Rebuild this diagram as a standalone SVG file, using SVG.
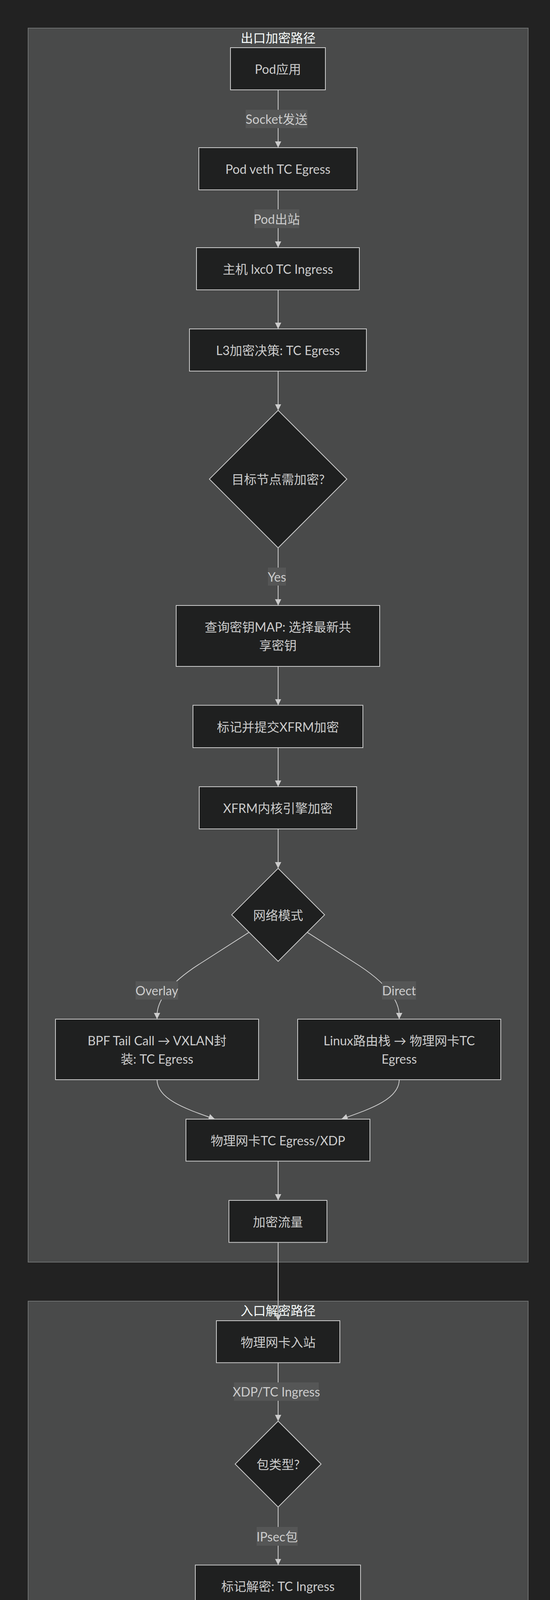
<svg xmlns="http://www.w3.org/2000/svg" width="1408" height="5695" viewBox="0 0 1408 5695">
<defs>
<marker id="arrow" viewBox="0 0 10 10" refX="10" refY="5" markerUnits="userSpaceOnUse" markerWidth="16" markerHeight="16" orient="auto">
<path d="M0,0 L10,5 L0,10 z" fill="#cccccc"/>
</marker>
</defs>
<style>
text{font-family:"Trebuchet MS",Lato,"Noto Sans CJK SC",sans-serif;font-size:32px;text-anchor:middle;dominant-baseline:central}
.cluster rect{fill:#494a4a;stroke:#6e7070;stroke-width:2}
.ctitle{fill:#F9FFFE}
.node rect,.node polygon{fill:#1f2020;stroke:#cccccc;stroke-width:2}
.node text{fill:#cccccc}
.edges path{fill:none;stroke:#cccccc;stroke-width:2;marker-end:url(#arrow)}
.elabel rect{fill:#555656}
.elabel text{fill:#cccccc}
</style>
<rect x="0" y="0" width="1408" height="5695" fill="#222222"/>
<g id="cluster-egress" class="cluster">
<rect x="72" y="72" width="1280" height="3159"/>
<text class="ctitle" x="712" y="96">出口加密路径</text>
</g>
<g id="cluster-ingress" class="cluster">
<rect x="72" y="3331" width="1280" height="2308"/>
<text class="ctitle" x="712" y="3354">入口解密路径</text>
</g>
<g id="edges" class="edges">
<path d="M712,230 L712,378"/>
<path d="M712,486 L712,634"/>
<path d="M712,742 L712,842"/>
<path d="M712,950 L712,1050.5"/>
<path d="M712,1402.5 L712,1550"/>
<path d="M712,1706 L712,1805.5"/>
<path d="M712,1914 L712,2014"/>
<path d="M712,2122 L712,2223"/>
<path d="M637.6,2386.6 L520,2462 Q402,2535 402,2600 L402,2609"/>
<path d="M786.4,2386.6 L904,2462 Q1022,2535 1022,2600 L1022,2609"/>
<path d="M402,2764 C402,2815 480,2840 550,2865"/>
<path d="M1022,2764 C1022,2815 944,2840 874,2865"/>
<path d="M712,2972.5 L712,3073"/>
<path d="M712,3180.5 L712,3381"/>
<path d="M712,3488.5 L712,3638"/>
<path d="M712,3858 L712,4006.5"/>
<path d="M712,4114.5 L712,4215"/>
<path d="M712,4323 L712,4422"/>
<path d="M712,4530 L712,4631"/>
<path d="M637.6,4794.6 L520,4870 Q402,4943 402,5008 L402,5017"/>
<path d="M786.4,4794.6 L904,4870 Q1022,4943 1022,5008 L1022,5017"/>
<path d="M402,5173 C402,5224 480,5248 550,5273"/>
<path d="M1022,5173 C1022,5224 944,5248 874,5273"/>
<path d="M712,5381 L712,5480.5"/>
</g>
<g id="edge-labels" class="elabel">
<g id="lbl-socket"><rect x="629" y="281" width="158" height="47"/><text x="708" y="304.5">Socket发送</text></g>
<g id="lbl-podout"><rect x="651" y="536" width="115" height="48"/><text x="708.5" y="560">Pod出站</text></g>
<g id="lbl-yes"><rect x="686" y="1453" width="46" height="46"/><text x="709" y="1476">Yes</text></g>
<g id="lbl-overlay1"><rect x="347" y="2512" width="109" height="47"/><text x="401.5" y="2535.5">Overlay</text></g>
<g id="lbl-direct1"><rect x="978" y="2512" width="87" height="47"/><text x="1021.5" y="2535.5">Direct</text></g>
<g id="lbl-xdp"><rect x="599" y="3539" width="217" height="47"/><text x="707.5" y="3562.5">XDP/TC Ingress</text></g>
<g id="lbl-ipsec"><rect x="657" y="3909" width="105" height="48"/><text x="709.5" y="3933">IPsec包</text></g>
<g id="lbl-overlay2"><rect x="347" y="4920" width="109" height="47"/><text x="401.5" y="4943.5">Overlay</text></g>
<g id="lbl-direct2"><rect x="978" y="4920" width="87" height="47"/><text x="1021.5" y="4943.5">Direct</text></g>
</g>
<g id="node-podapp" class="node"><rect x="590" y="122" width="243" height="108"/><text x="711.5" y="176">Pod应用</text></g>
<g id="node-podveth" class="node"><rect x="509" y="378" width="405" height="108"/><text x="711.5" y="432">Pod veth TC Egress</text></g>
<g id="node-hostlxc" class="node"><rect x="503" y="634" width="417" height="108"/><text x="711.5" y="688">主机 lxc0 TC Ingress</text></g>
<g id="node-l3" class="node"><rect x="485" y="842" width="453" height="108"/><text x="711.5" y="896">L3加密决策: TC Egress</text></g>
<g id="node-needenc" class="node"><polygon points="712,1050.5 888,1226.5 712,1402.5 536,1226.5"/><text x="712" y="1226.5">目标节点需加密?</text></g>
<g id="node-keymap" class="node"><rect x="451" y="1550" width="521" height="156"/><text x="711.5" y="1604">查询密钥MAP: 选择最新共</text><text x="711.5" y="1651">享密钥</text></g>
<g id="node-mark" class="node"><rect x="494" y="1805.5" width="435" height="108.5"/><text x="711.5" y="1860">标记并提交XFRM加密</text></g>
<g id="node-xfrmenc" class="node"><rect x="510" y="2014" width="403" height="108"/><text x="711.5" y="2068">XFRM内核引擎加密</text></g>
<g id="node-mode1" class="node"><polygon points="712,2223 831,2342 712,2461 593,2342"/><text x="712" y="2342">网络模式</text></g>
<g id="node-vxlan" class="node"><rect x="142" y="2609" width="520" height="155"/><text x="402" y="2663">BPF Tail Call → VXLAN封</text><text x="402" y="2710">装: TC Egress</text></g>
<g id="node-route1" class="node"><rect x="762" y="2609" width="520" height="155"/><text x="1022" y="2663">Linux路由栈 → 物理网卡TC</text><text x="1022" y="2710">Egress</text></g>
<g id="node-nicegress" class="node"><rect x="476" y="2865" width="471" height="107.5"/><text x="711.5" y="2919">物理网卡TC Egress/XDP</text></g>
<g id="node-enctraffic" class="node"><rect x="586" y="3073" width="251" height="107.5"/><text x="711.5" y="3127">加密流量</text></g>
<g id="node-nicin" class="node"><rect x="554" y="3381" width="316" height="107.5"/><text x="712" y="3435">物理网卡入站</text></g>
<g id="node-pkttype" class="node"><polygon points="712,3638 822,3748 712,3858 602,3748"/><text x="712" y="3748">包类型?</text></g>
<g id="node-markdec" class="node"><rect x="500" y="4006.5" width="423" height="108"/><text x="711.5" y="4060.5">标记解密: TC Ingress</text></g>
<g id="node-xfrmdec" class="node"><rect x="510" y="4215" width="403" height="108"/><text x="711.5" y="4269">XFRM内核引擎解密</text></g>
<g id="node-recvdec" class="node"><rect x="484" y="4422" width="456" height="108"/><text x="711.5" y="4476">接收解密包: TC Ingress</text></g>
<g id="node-mode2" class="node"><polygon points="712,4631 831,4750 712,4869 593,4750"/><text x="712" y="4750">网络模式</text></g>
<g id="node-bpflxc" class="node"><rect x="142" y="5017" width="520" height="156"/><text x="402" y="5071">BPF Tail Call → lxc0:</text><text x="402" y="5119">XDP/TC Ingress</text></g>
<g id="node-route2" class="node"><rect x="762" y="5017" width="520" height="156"/><text x="1022" y="5071">Linux路由栈 → lxc0 TC</text><text x="1022" y="5119">Ingress</text></g>
<g id="node-dstveth" class="node"><rect x="473" y="5273" width="477" height="108"/><text x="711.5" y="5327">目标Pod veth TC Ingress</text></g>
<g id="node-podrecv" class="node"><rect x="558" y="5480.5" width="308" height="108.5"/><text x="712" y="5535">Pod应用接收</text></g>
</svg>
